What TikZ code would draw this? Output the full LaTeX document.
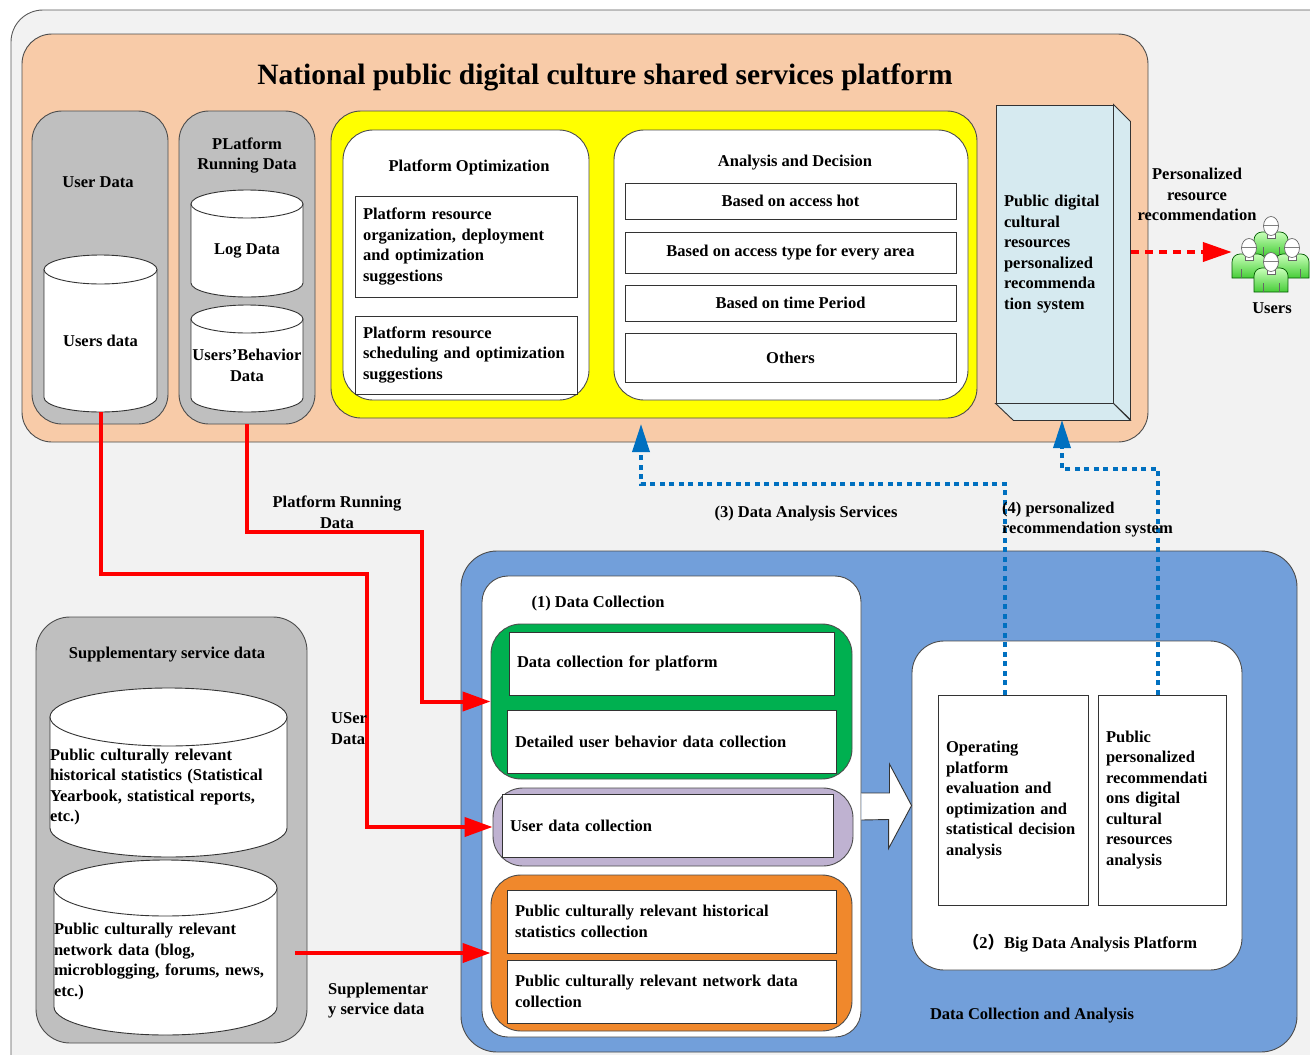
\documentclass[tikz,border=0pt]{standalone}
\usepackage{fontspec}
\setmainfont{Liberation Serif}
\newfontfamily\cjkfont{Noto Sans CJK SC}
\usepackage{tikz}
\usetikzlibrary{arrows.meta,shapes,positioning,calc}
\usepackage{xcolor}
\definecolor{bggray}{RGB}{242,242,242}
\definecolor{peach}{RGB}{248,203,168}
\definecolor{colgray}{RGB}{191,191,191}
\definecolor{hiyellow}{RGB}{255,255,0}
\definecolor{recblue}{RGB}{214,234,240}
\definecolor{dcblue}{RGB}{114,159,218}
\definecolor{dcgreen}{RGB}{0,176,80}
\definecolor{dcpurple}{RGB}{191,178,209}
\definecolor{dcorange}{RGB}{240,136,44}
\definecolor{dotblue}{RGB}{0,112,192}
\definecolor{usrlight}{RGB}{200,255,185}
\definecolor{usrgreen}{RGB}{70,205,55}
\tikzstyle{grp} = [rectangle, draw=black!70, line width=0.9pt, rounded corners=30pt]
\tikzstyle{txtbox} = [rectangle, draw=black!80, fill=white, line width=0.9pt, inner xsep=8pt]
\tikzstyle{lbl} = [inner sep=0pt, align=center, yshift=-2.5pt]
\tikzstyle{redarrow} = [line width=4pt, color=red, -{Triangle[length=28pt,width=19pt]}]
\tikzstyle{reddash} = [line width=4pt, color=red, dash pattern=on 8pt off 6pt, -{Triangle[length=29pt,width=19pt]}]
\tikzstyle{bluearrow} = [line width=3.5pt, color=dotblue, dash pattern=on 5pt off 4.5pt, -{Triangle[length=28pt,width=17pt]}]

% drum: name, left, top, right, bottom, ry, node options, text
\newcommand{\drum}[8]{%
  \path[draw=black!80, fill=white, line width=0.9pt] (#2,#3+#6) -- (#2,#5-#6) arc[start angle=180, end angle=0, x radius={(#4-#2)/2}, y radius=#6] -- (#4,#3+#6) -- cycle;
  \path[draw=black!80, fill=white, line width=0.9pt] ({(#2+#4)/2},#3+#6) ellipse[x radius={(#4-#2)/2}, y radius=#6];
  \node[inner sep=0pt, minimum width={(#4-#2)*1pt}, minimum height={(#5-#3-#6)*1pt}, #7] (#1) at ({(#2+#4)/2},{(#3+#6+#5)/2}) {#8};
}
% person: head x, head y
\newcommand{\person}[2]{%
  \draw[draw=green!35!black, line width=0.7pt, top color=usrlight, bottom color=usrgreen] (#1-17,#2+30) -- (#1-17,#2+14) to[out=90, in=180] (#1-9,#2+6) -- (#1+9,#2+6) to[out=0, in=90] (#1+17,#2+14) -- (#1+17,#2+30) -- cycle;
  \draw[draw=black!60, line width=0.7pt] (#1-8,#2+21) -- (#1-8,#2+30) (#1+8,#2+21) -- (#1+8,#2+30);
  \draw[draw=black!60, line width=0.7pt, fill=white] (#1-4,#2+7) -- (#1-4,#2+12) -- (#1+4,#2+12) -- (#1+4,#2+7);
  \draw[draw=black!60, line width=0.7pt, fill=white] (#1,#2) ellipse[x radius=7.5, y radius=9.5];
  \draw[draw=black!50, line width=0.6pt] (#1-7,#2-1) -- (#1+7,#2-1);
}

\begin{document}
\begin{tikzpicture}[x=1pt, y=-1pt, font=\fontsize{16.5}{20.5}\selectfont\bfseries]
    \useasboundingbox (0,0) rectangle (1310,1055);
    \clip (0,0) rectangle (1310,1055);
    % Background
    \draw[draw=black!65, fill=bggray, line width=0.9pt, rounded corners=32pt] (11,10) rectangle (1345,1090);

    % Platform
    \node[grp, fill=peach, minimum width=1126pt, minimum height=408pt] (platform) at (585,238) {};
    \node[lbl, font=\fontsize{29.5}{34}\selectfont\bfseries] (title) at (605,75) {National public digital culture shared services platform};

    % Data columns
    \node[grp, fill=colgray, minimum width=136pt, minimum height=313pt] (usercol) at (100,267.5) {};
    \node[grp, fill=colgray, minimum width=136pt, minimum height=313pt] (runcol) at (247,267.5) {};
    \node[lbl] (userlbl) at (98,180) {User Data};
    \node[lbl] (runlbl) at (247,153) {PLatform\\Running Data};
    \drum{usersdata}{44}{255}{157}{412}{14.5}{align=center}{Users data}
    \drum{logdata}{191}{190}{303}{297}{14}{align=center}{Log Data}
    \drum{behavdata}{191}{305}{303}{412}{14}{align=center}{Users’Behavior\\Data}

    % Optimization and decision
    \node[grp, fill=hiyellow, minimum width=646pt, minimum height=307pt] (optframe) at (654,264.5) {};
    \node[grp, fill=white, minimum width=246pt, minimum height=270pt] (optbox) at (466,265) {};
    \node[grp, fill=white, minimum width=354pt, minimum height=270pt] (anabox) at (791,265) {};
    \node[lbl] (optlbl) at (469,165) {Platform Optimization};
    \node[lbl] (analbl) at (795,160) {Analysis and Decision};
    \node[txtbox, minimum width=222pt, minimum height=101pt, text width=206pt, align=left] (opt1) at (466,246.5) {Platform resource\\organization, deployment\\and optimization\\suggestions};
    \node[txtbox, minimum width=222pt, minimum height=78pt, text width=206pt, align=left] (opt2) at (466,355) {Platform resource\\scheduling and optimization\\suggestions};
    \node[txtbox, minimum width=331pt, minimum height=36pt, align=center] (ana1) at (790.5,201) {Based on access hot};
    \node[txtbox, minimum width=331pt, minimum height=41pt, align=center] (ana2) at (790.5,252.5) {Based on access type for every area};
    \node[txtbox, minimum width=331pt, minimum height=36pt, align=center] (ana3) at (790.5,303) {Based on time Period};
    \node[txtbox, minimum width=331pt, minimum height=49pt, align=center] (ana4) at (790.5,357.5) {Others};

    % Recommendation system
    \node[txtbox, fill=recblue, minimum width=117pt, minimum height=298pt, text width=101pt, align=left] (recsys) at (1054.5,254) {Public digital\\cultural\\resources\\personalized\\recommenda\\tion system};
    \draw[draw=black!80, fill=recblue, line width=0.9pt] (recsys.north east) -- ++(17,17) -- ++(0,298) -- (recsys.south east) -- cycle;
    \draw[draw=black!80, fill=recblue, line width=0.9pt] (recsys.south west) -- (recsys.south east) -- ++(17,17) -- ++(-117,0) -- cycle;

    % Users
    \node[minimum width=78pt, minimum height=80pt, inner sep=0pt] (users) at (1271,252) {};
    \person{1271}{226}
    \person{1249}{248}
    \person{1292}{248}
    \person{1271}{262}
    \node[lbl] (userslbl) at (1272,306) {Users};
    \node[lbl] (reclbl) at (1197,192) {Personalized\\resource\\recommendation};

    % Supplementary data
    \node[grp, fill=colgray, minimum width=271pt, minimum height=426pt, rounded corners=34pt] (suppcol) at (171.5,830) {};
    \node[lbl] (supplbl) at (167,652) {Supplementary service data};
    \drum{histdata}{50}{688}{287}{857}{29}{text width=237pt, align=left}{Public culturally relevant\\historical statistics (Statistical\\Yearbook, statistical reports,\\etc.)}
    \drum{netdata}{54}{860}{277}{1035}{28}{text width=223pt, align=left}{Public culturally relevant\\network data (blog,\\microblogging, forums, news,\\etc.)}

    % Data collection and analysis
    \node[grp, fill=dcblue, minimum width=836pt, minimum height=501pt, rounded corners=36pt] (dcarea) at (879,801.5) {};
    \node[grp, fill=white, minimum width=379pt, minimum height=461pt, rounded corners=26pt] (dcbox) at (671.5,806.5) {};
    \node[lbl] (dclbl) at (598,601) {(1) Data Collection};
    \node[grp, fill=dcgreen, minimum width=361pt, minimum height=155pt] (greengrp) at (671.5,701.5) {};
    \node[txtbox, minimum width=325pt, minimum height=63pt, text width=309pt, align=left] (dc1) at (671.5,663.5) {Data collection for platform};
    \node[txtbox, minimum width=329pt, minimum height=63pt, text width=313pt, align=left] (dc2) at (671.5,741.5) {Detailed user behavior data collection};
    \node[grp, fill=dcpurple, minimum width=360pt, minimum height=78pt] (purplegrp) at (673,827) {};
    \node[txtbox, minimum width=331pt, minimum height=63pt, text width=315pt, align=left] (dc3) at (667.5,825.5) {User data collection};
    \node[grp, fill=dcorange, minimum width=361pt, minimum height=156pt] (orangegrp) at (671.5,953) {};
    \node[txtbox, minimum width=329pt, minimum height=63pt, text width=313pt, align=left] (dc4) at (671.5,921.5) {Public culturally relevant historical\\statistics collection};
    \node[txtbox, minimum width=329pt, minimum height=63pt, text width=313pt, align=left] (dc5) at (671.5,991.5) {Public culturally relevant network data\\collection};

    % Big data analysis
    \node[grp, fill=white, minimum width=330pt, minimum height=329pt, rounded corners=32pt] (bdbox) at (1077,805.5) {};
    \node[txtbox, minimum width=150pt, minimum height=210pt, text width=134pt, align=left] (opbox) at (1013,800) {Operating\\platform\\evaluation and\\optimization and\\statistical decision\\analysis};
    \node[txtbox, minimum width=128pt, minimum height=210pt, text width=112pt, align=left] (pubbox) at (1162,800) {Public\\personalized\\recommendati\\ons digital\\cultural\\resources\\analysis};
    \node[lbl] (bdlbl) at (1080,941) {{\cjkfont （}2{\cjkfont ）}Big Data Analysis Platform};
    \node[lbl] (dcalbl) at (1032,1013) {Data Collection and Analysis};
    \draw[draw=black!80, fill=white, line width=0.9pt] ([yshift=13.5pt]dcbox.east) -- ++(28,0) -- ++(0,-29) -- (bdbox.west) -- ++(-23,43) -- ++(0,-29) -- ([yshift=-13.5pt]dcbox.east);

    % Connectors
    \coordinate (optip) at (641,424);
    \coordinate (bend3) at (641,484);
    \coordinate (recin) at (1062,420);
    \coordinate (bend4) at (1062,469);
    \coordinate (recout) at (1131,252);
    \coordinate (supout) at (295,953);
    \draw[redarrow] (usersdata.south) |- (367,574) |- (purplegrp.west);
    \draw[redarrow] (runcol.south) |- (422,532) |- (greengrp.west);
    \draw[redarrow] (supout) -- (orangegrp.west);
    \draw[reddash] (recout) -- (users.west);
    \draw[bluearrow] ([xshift=-8pt]opbox.north) |- (bend3) -- (optip);
    \draw[bluearrow] ([xshift=-4pt]pubbox.north) |- (bend4) -- (recin);

    % Labels
    \node[lbl] (runline) at (337,510) {Platform Running\\Data};
    \node[lbl] (dasline) at (806,511) {(3) Data Analysis Services};
    \node[lbl, anchor=west, align=left] (recline) at (1002,517) {(4) personalized\\recommendation system};
    \node[lbl, anchor=west, align=left] (usrline) at (331,726) {USer\\Data};
    \node[lbl, anchor=west, align=left] (suppline) at (328,998) {Supplementar\\y service data};
\end{tikzpicture}
\end{document}
